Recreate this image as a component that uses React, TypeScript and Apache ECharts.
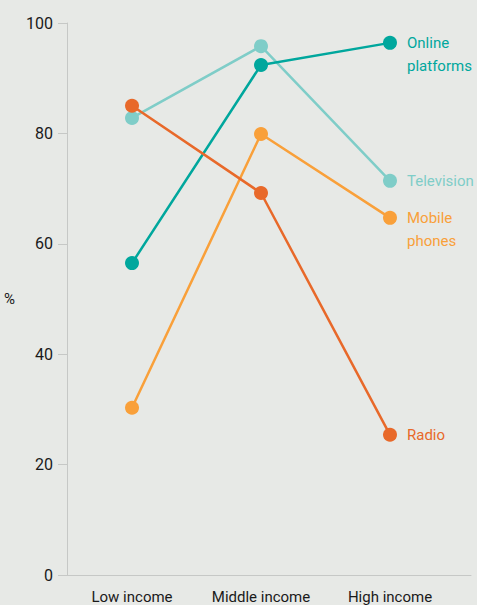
import React, { useEffect, useRef } from "react";
import * as echarts from "echarts";

const categories = ["Low income", "Middle income", "High income"];
const seriesNames = ["Television", "Mobile phones", "Online platforms", "Radio"];
const endLabels = ["Television", "Mobile\nphones", "Online\nplatforms", "Radio"];
const television = [82.8, 95.8, 71.4];
const mobilePhones = [30.3, 79.9, 64.7];
const onlinePlatforms = [56.5, 92.4, 96.4];
const radio = [85.0, 69.2, 25.4];
const colors = ["#7fcdc8", "#f9a03a", "#00a79d", "#e8692a"];

export default function App() {
  const ref = useRef<HTMLDivElement>(null);
  useEffect(() => {
    if (!ref.current) return;
    const chart = echarts.init(ref.current, undefined, { renderer: "svg" });
    const values = [television, mobilePhones, onlinePlatforms, radio];
    const font = "Roboto, 'Noto Sans', sans-serif";
    chart.setOption({
      animation: false,
      backgroundColor: "#e7e9e6",
      textStyle: { fontFamily: font },
      grid: { left: 67, right: 6, top: 23, bottom: 30, containLabel: false },
      xAxis: {
        type: "value",
        min: -0.504,
        max: 2.628,
        splitLine: { show: false },
        axisLine: { show: true, onZero: false, lineStyle: { color: "#c6c8c6", width: 1 } },
        axisTick: { show: false },
        axisLabel: {
          customValues: [0, 1, 2],
          formatter: (v: number) => categories[Math.round(v)] ?? "",
          color: "#1a1a1a",
          fontSize: 15,
          margin: 14,
          fontFamily: font,
        },
      },
      yAxis: {
        type: "value",
        min: 0,
        max: 100,
        interval: 20,
        name: "%",
        nameLocation: "middle",
        nameRotate: 0,
        nameGap: 52,
        nameTextStyle: { color: "#1a1a1a", fontSize: 15, fontFamily: font },
        splitLine: { show: false },
        axisLine: { show: true, onZero: false, lineStyle: { color: "#c6c8c6", width: 1 } },
        axisTick: { show: true, length: 9, lineStyle: { color: "#c6c8c6" } },
        axisLabel: {
          color: "#1a1a1a",
          fontSize: 16,
          margin: 14,
          fontFamily: font,
        },
      },
      series: seriesNames.map((name, i) => ({
        name,
        type: "line",
        data: values[i].map((v, j) => [j, v]),
        symbol: "circle",
        symbolSize: 14,
        lineStyle: { color: colors[i], width: 2.5 },
        itemStyle: { color: colors[i] },
        endLabel: {
          show: true,
          formatter: () => endLabels[i],
          color: colors[i],
          fontSize: 15,
          lineHeight: 23,
          distance: 17,
          verticalAlign: endLabels[i].includes("\n") ? "top" : "middle",
          offset: endLabels[i].includes("\n") ? [0, -11] : [0, 0],
          fontFamily: font,
        },
      })),
    });
    return () => chart.dispose();
  }, []);
  return (
    <div
      ref={ref}
      style={{ position: "absolute", left: 0, top: 0, width: 477, height: 605 }}
    />
  );
}
